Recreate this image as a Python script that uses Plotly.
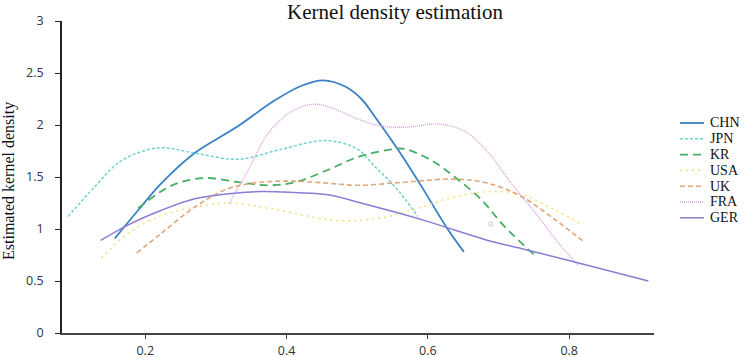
import plotly.graph_objects as go

# ---- data ----
chn_x = [0.157, 0.190, 0.223, 0.270, 0.327, 0.384, 0.422, 0.452, 0.483, 0.506, 0.525, 0.558, 0.591, 0.626, 0.651]
chn_y = [0.91, 1.18, 1.44, 1.73, 1.97, 2.24, 2.38, 2.43, 2.37, 2.25, 2.08, 1.76, 1.41, 1.02, 0.78]

jpn_x = [0.091, 0.129, 0.167, 0.219, 0.270, 0.332, 0.389, 0.455, 0.500, 0.525, 0.553, 0.586]
jpn_y = [1.12, 1.41, 1.66, 1.78, 1.73, 1.67, 1.76, 1.85, 1.77, 1.60, 1.41, 1.12]

kr_x = [0.190, 0.238, 0.285, 0.332, 0.374, 0.412, 0.459, 0.500, 0.553, 0.567, 0.605, 0.638, 0.676, 0.709, 0.754]
kr_y = [1.20, 1.42, 1.49, 1.45, 1.42, 1.45, 1.57, 1.69, 1.77, 1.77, 1.66, 1.50, 1.28, 1.02, 0.73]

usa_x = [0.138, 0.176, 0.223, 0.270, 0.318, 0.365, 0.412, 0.459, 0.500, 0.544, 0.591, 0.638, 0.695, 0.733, 0.780, 0.817]
usa_y = [0.72, 0.96, 1.13, 1.21, 1.25, 1.21, 1.15, 1.09, 1.08, 1.12, 1.21, 1.31, 1.36, 1.33, 1.18, 1.05]

uk_x = [0.188, 0.223, 0.270, 0.318, 0.365, 0.412, 0.459, 0.500, 0.567, 0.638, 0.685, 0.733, 0.780, 0.822]
uk_y = [0.77, 0.96, 1.21, 1.39, 1.45, 1.46, 1.44, 1.42, 1.45, 1.48, 1.44, 1.31, 1.09, 0.87]

fra_x = [0.318, 0.346, 0.374, 0.407, 0.440, 0.473, 0.500, 0.534, 0.572, 0.614, 0.652, 0.685, 0.718, 0.756, 0.789, 0.813]
fra_y = [1.24, 1.57, 1.92, 2.13, 2.20, 2.14, 2.06, 1.99, 1.98, 2.01, 1.94, 1.74, 1.44, 1.12, 0.83, 0.65]

ger_x = [0.137, 0.176, 0.223, 0.270, 0.318, 0.365, 0.412, 0.459, 0.500, 0.544, 0.591, 0.638, 0.685, 0.733, 0.780, 0.827, 0.912]
ger_y = [0.89, 1.04, 1.18, 1.29, 1.34, 1.36, 1.35, 1.33, 1.26, 1.18, 1.09, 0.99, 0.89, 0.81, 0.73, 0.65, 0.50]

stray_x = [0.689]
stray_y = [1.05]

names = ["CHN", "JPN", "KR", "USA", "UK", "FRA", "GER"]
xs = [chn_x, jpn_x, kr_x, usa_x, uk_x, fra_x, ger_x]
ys = [chn_y, jpn_y, kr_y, usa_y, uk_y, fra_y, ger_y]
colors = ["#3a80c4", "#6fd3cc", "#45ad64", "#f3e07e", "#e2a577", "#d9a0e2", "#8a7dd3"]
dashes = ["solid", "3px,2px", "8px,5px", "2px,4px", "5px,3px", "1px,1px", "solid"]
widths = [1.8, 1.5, 1.8, 1.6, 1.6, 1.4, 1.5]

x_ticks = [0.2, 0.4, 0.6, 0.8]
y_ticks = [0, 0.5, 1, 1.5, 2, 2.5, 3]

fig = go.Figure()
for n, x, y, c, d, w in zip(names, xs, ys, colors, dashes, widths):
    fig.add_trace(go.Scatter(x=x, y=y, mode="lines", name=n, showlegend=False,
                             line=dict(color=c, dash=d, width=w, shape="spline", smoothing=1.0)))
fig.add_trace(go.Scatter(x=stray_x, y=stray_y, mode="markers", showlegend=False,
                         marker=dict(size=4, color="rgba(0,0,0,0)", line=dict(color="#c8c8d8", width=1))))

# plot area in pixels: x 62..654, y 21..333
L, R, T, B = 62, 654, 21, 333
W, H = R - L, B - T

# custom compact legend
leg_top = 123
leg_step = 15.8
for i, (n, c, d, w) in enumerate(zip(names, colors, dashes, widths)):
    py = leg_top + i * leg_step
    yp = (B - py) / H
    fig.add_shape(type="line", xref="paper", yref="paper",
                  x0=(680 - L) / W, x1=(704 - L) / W, y0=yp, y1=yp,
                  line=dict(color=c, dash=d, width=w))
    fig.add_annotation(xref="paper", yref="paper", x=(709 - L) / W, y=yp,
                       text=n, showarrow=False, xanchor="left", yanchor="middle",
                       borderpad=0,
                       font=dict(family="Liberation Serif", size=14, color="#111"))

# y-axis title
fig.add_annotation(xref="paper", yref="paper", x=(9 - L) / W, y=(B - 181) / H,
                   text="Estimated kernel density", textangle=-90, showarrow=False,
                   xanchor="center", yanchor="middle",
                   font=dict(family="Liberation Serif", size=16, color="#111"))

fig.update_layout(
    width=750, height=358,
    margin=dict(l=L, r=750 - R, t=T, b=358 - B, autoexpand=False),
    paper_bgcolor="white", plot_bgcolor="white",
    title=dict(text="Kernel density estimation", x=395 / 750, xanchor="center",
               y=1 - 12 / 358, yanchor="middle", yref="container",
               font=dict(family="Liberation Serif", size=21, color="#111")),
    showlegend=False,
)
fig.update_xaxes(range=[0.0822, 0.920], tickvals=x_ticks, ticktext=[str(v) for v in x_ticks],
                 automargin=False,
                 showgrid=False, zeroline=False, showline=True, linecolor="#444", linewidth=1.5,
                 ticks="outside", ticklen=4, tickcolor="#444", tickwidth=1.2,
                 ticklabelstandoff=1,
                 tickfont=dict(family="Open Sans", size=12.5, color="#333"))
fig.update_yaxes(range=[0, 3], tickvals=y_ticks, ticktext=["0", "0.5", "1", "1.5", "2", "2.5", "3"],
                 automargin=False,
                 showgrid=False, zeroline=False, showline=True, linecolor="#222", linewidth=1.8,
                 ticks="outside", ticklen=5, tickcolor="#222", tickwidth=1.2,
                 ticklabelstandoff=9,
                 tickfont=dict(family="Open Sans", size=12.5, color="#333"))

fig.write_html("out.html")
